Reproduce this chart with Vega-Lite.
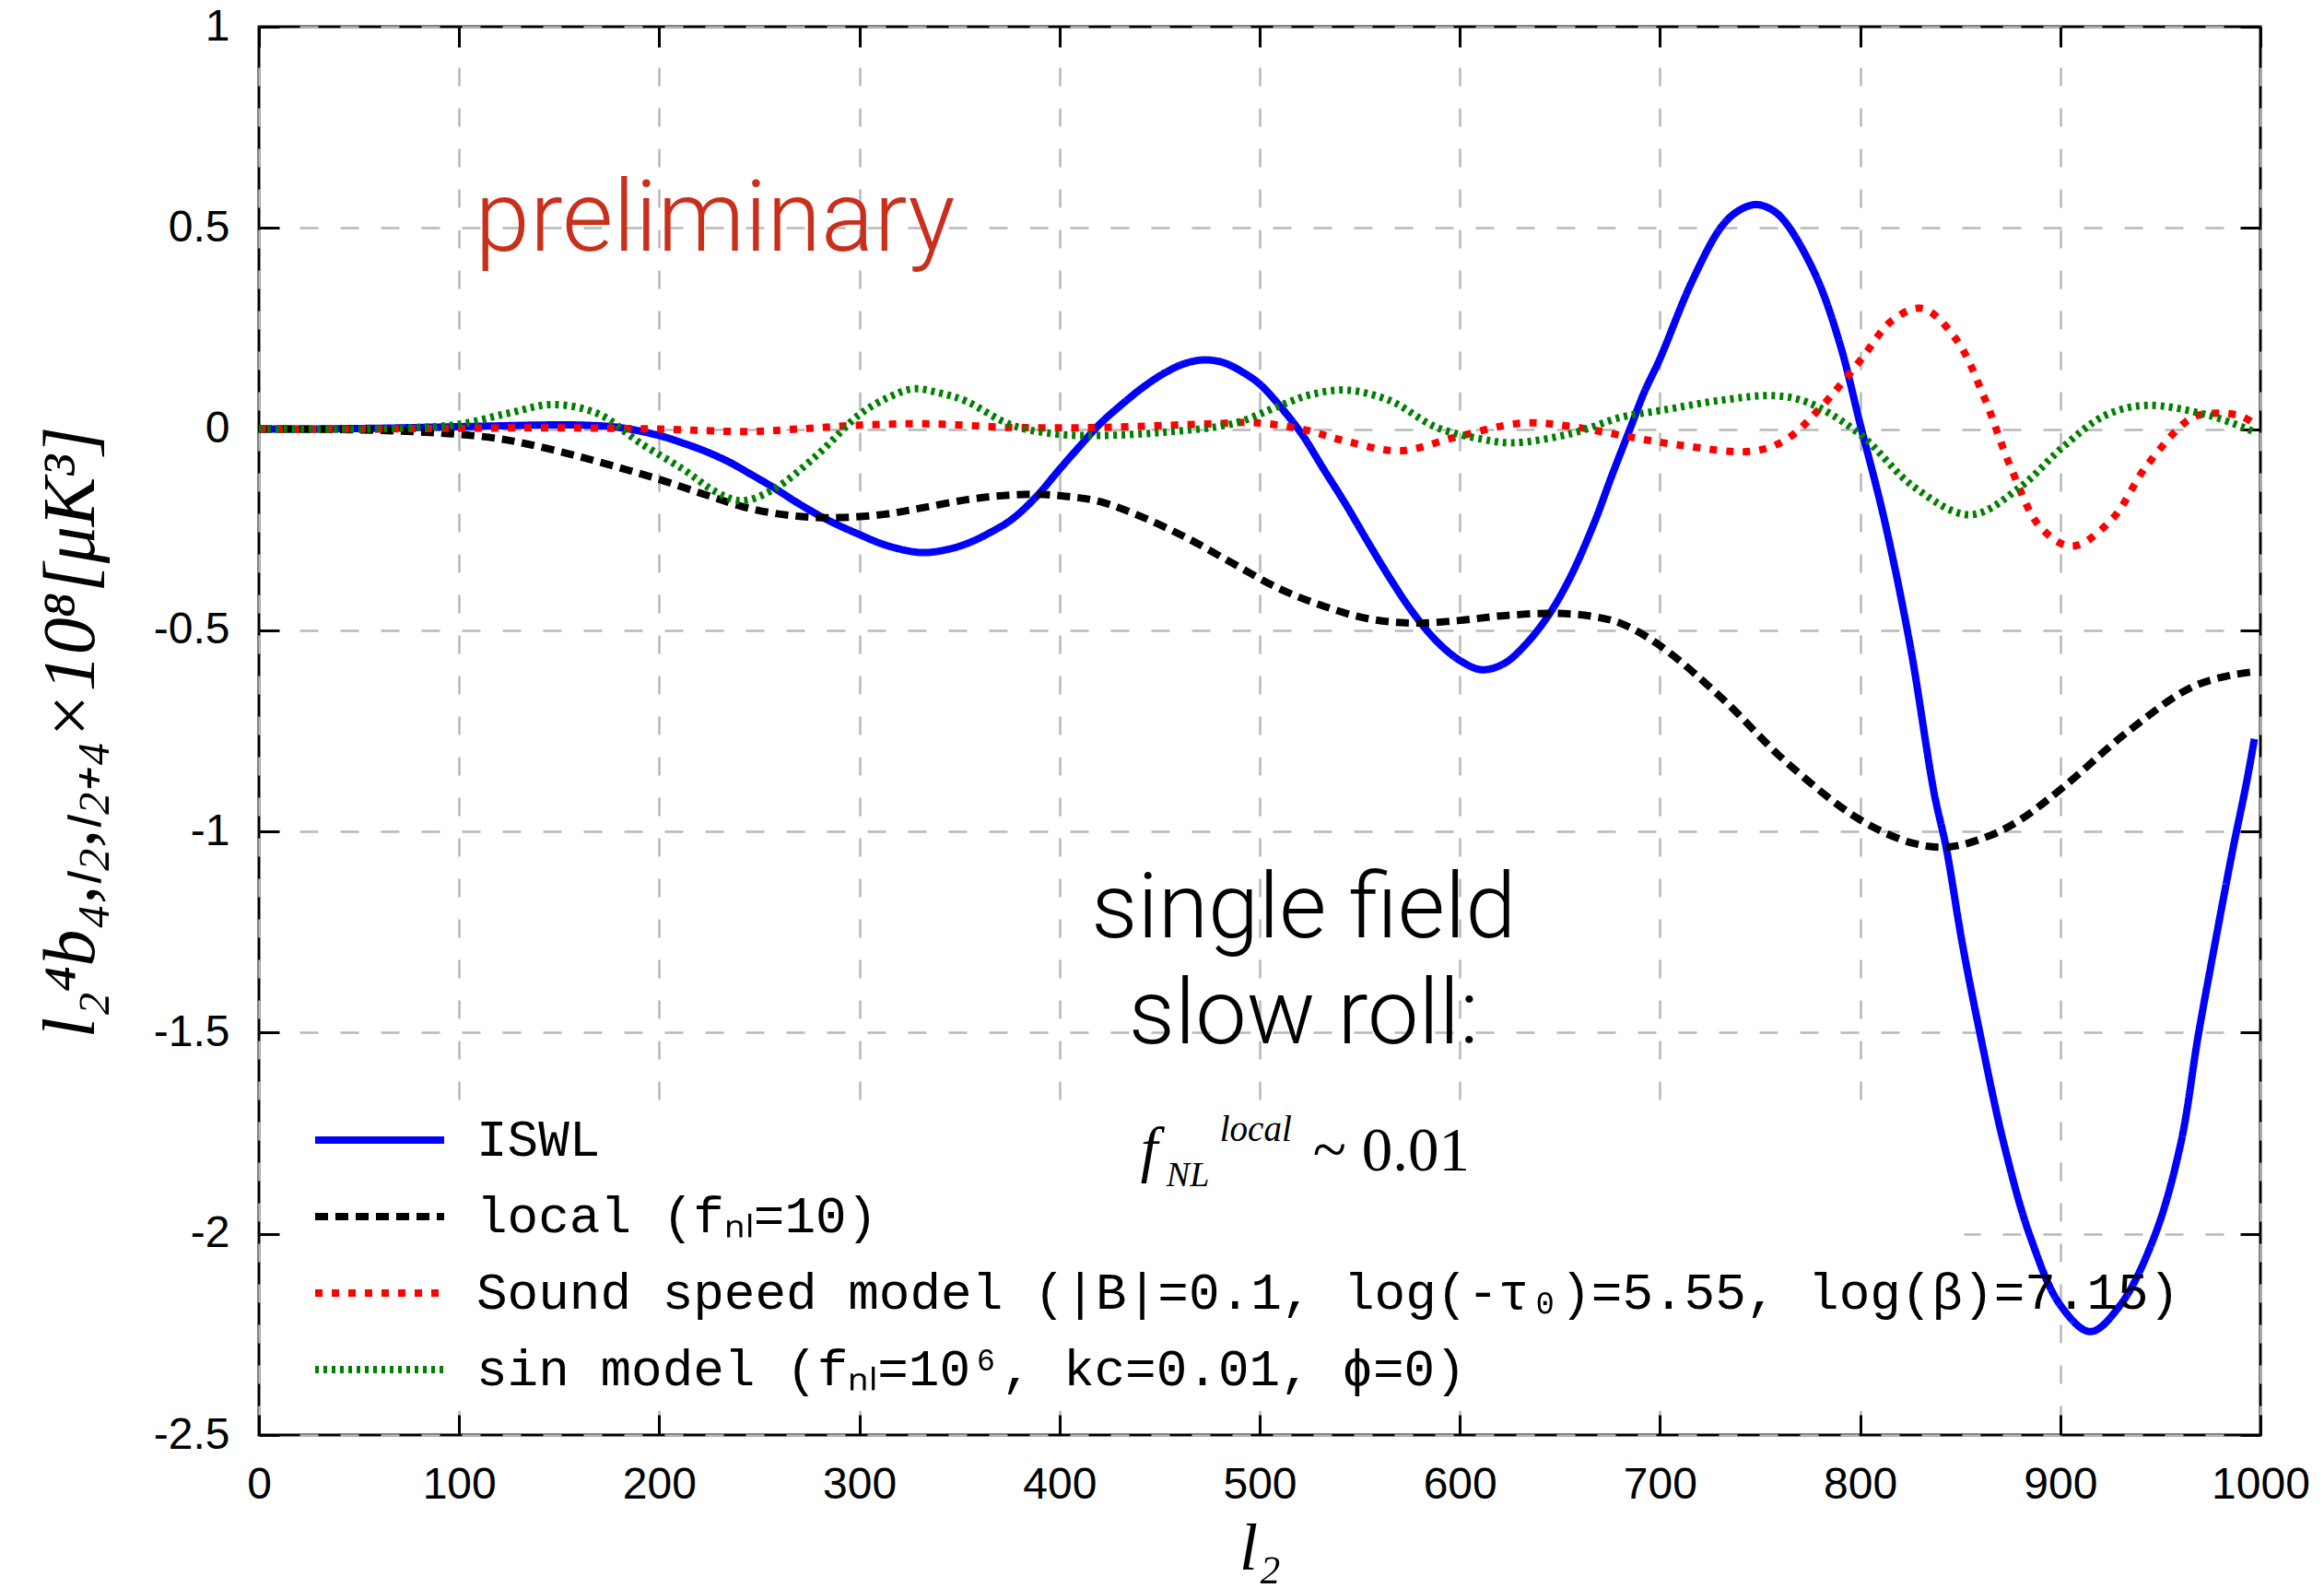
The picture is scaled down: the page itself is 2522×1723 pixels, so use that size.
{
  "$schema": "https://vega.github.io/schema/vega-lite/v6.json",
  "width": 2172,
  "height": 1528,
  "autosize": {"type": "none"},
  "padding": {"left": 281, "top": 29, "right": 69, "bottom": 166},
  "background": "white",
  "config": {
    "view": {"stroke": "black", "strokeWidth": 3},
    "axis": {
      "labelFont": "Liberation Sans", "labelFontSize": 48, "labelColor": "black",
      "tickColor": "black", "tickWidth": 3, "tickSize": -22,
      "domain": false, "gridColor": "#b8b8b8", "gridDash": [20, 24], "gridWidth": 2.5, "gridOpacity": 1,
      "labelFlush": false, "labelOverlap": false, "titleColor": "black"
    }
  },
  "layer": [
    {
      "data": {"values": [{}]},
      "mark": {"type": "rect", "fill": "white"},
      "encoding": {
        "x": {"datum": 12, "type": "quantitative", "axis": {"orient": "top", "values": [0,100,200,300,400,500,600,700,800,900,1000], "labels": false, "grid": false, "title": null}},
        "x2": {"datum": 852},
        "y": {"datum": -2.44, "type": "quantitative", "axis": {"orient": "right", "values": [1,0.5,0,-0.5,-1,-1.5,-2,-2.5], "labels": false, "grid": false, "title": null}},
        "y2": {"datum": -1.675}
      }
    },
    {
      "data": {"values": [
        {"x":0,"y":0,"s":"ISWL"},{"x":20,"y":0,"s":"ISWL"},{"x":40,"y":0.001,"s":"ISWL"},{"x":60,"y":0.002,"s":"ISWL"},{"x":80,"y":0.004,"s":"ISWL"},{"x":100,"y":0.006,"s":"ISWL"},{"x":120,"y":0.008,"s":"ISWL"},{"x":140,"y":0.01,"s":"ISWL"},{"x":160,"y":0.01,"s":"ISWL"},{"x":180,"y":0.004,"s":"ISWL"},{"x":200,"y":-0.016,"s":"ISWL"},{"x":212,"y":-0.035,"s":"ISWL"},{"x":223,"y":-0.055,"s":"ISWL"},{"x":235,"y":-0.082,"s":"ISWL"},{"x":245,"y":-0.11,"s":"ISWL"},{"x":258,"y":-0.148,"s":"ISWL"},{"x":268,"y":-0.18,"s":"ISWL"},{"x":280,"y":-0.215,"s":"ISWL"},{"x":290,"y":-0.24,"s":"ISWL"},{"x":300,"y":-0.262,"s":"ISWL"},{"x":310,"y":-0.283,"s":"ISWL"},{"x":320,"y":-0.298,"s":"ISWL"},{"x":332,"y":-0.307,"s":"ISWL"},{"x":345,"y":-0.298,"s":"ISWL"},{"x":355,"y":-0.282,"s":"ISWL"},{"x":365,"y":-0.258,"s":"ISWL"},{"x":376,"y":-0.225,"s":"ISWL"},{"x":388,"y":-0.17,"s":"ISWL"},{"x":400,"y":-0.1,"s":"ISWL"},{"x":410,"y":-0.043,"s":"ISWL"},{"x":420,"y":0.012,"s":"ISWL"},{"x":432,"y":0.065,"s":"ISWL"},{"x":442,"y":0.105,"s":"ISWL"},{"x":452,"y":0.138,"s":"ISWL"},{"x":462,"y":0.162,"s":"ISWL"},{"x":472,"y":0.172,"s":"ISWL"},{"x":482,"y":0.165,"s":"ISWL"},{"x":492,"y":0.14,"s":"ISWL"},{"x":500,"y":0.112,"s":"ISWL"},{"x":510,"y":0.058,"s":"ISWL"},{"x":521,"y":-0.012,"s":"ISWL"},{"x":532,"y":-0.1,"s":"ISWL"},{"x":543,"y":-0.187,"s":"ISWL"},{"x":554,"y":-0.28,"s":"ISWL"},{"x":565,"y":-0.37,"s":"ISWL"},{"x":576,"y":-0.452,"s":"ISWL"},{"x":588,"y":-0.525,"s":"ISWL"},{"x":600,"y":-0.575,"s":"ISWL"},{"x":611,"y":-0.598,"s":"ISWL"},{"x":622,"y":-0.583,"s":"ISWL"},{"x":632,"y":-0.54,"s":"ISWL"},{"x":644,"y":-0.465,"s":"ISWL"},{"x":655,"y":-0.37,"s":"ISWL"},{"x":667,"y":-0.235,"s":"ISWL"},{"x":676,"y":-0.115,"s":"ISWL"},{"x":685,"y":0.0,"s":"ISWL"},{"x":692,"y":0.09,"s":"ISWL"},{"x":700,"y":0.175,"s":"ISWL"},{"x":716,"y":0.367,"s":"ISWL"},{"x":731,"y":0.505,"s":"ISWL"},{"x":740,"y":0.545,"s":"ISWL"},{"x":748,"y":0.558,"s":"ISWL"},{"x":756,"y":0.545,"s":"ISWL"},{"x":763,"y":0.512,"s":"ISWL"},{"x":778,"y":0.38,"s":"ISWL"},{"x":790,"y":0.21,"s":"ISWL"},{"x":800,"y":0.013,"s":"ISWL"},{"x":812,"y":-0.223,"s":"ISWL"},{"x":825,"y":-0.538,"s":"ISWL"},{"x":837,"y":-0.905,"s":"ISWL"},{"x":843,"y":-1.04,"s":"ISWL"},{"x":851,"y":-1.277,"s":"ISWL"},{"x":860,"y":-1.505,"s":"ISWL"},{"x":872,"y":-1.78,"s":"ISWL"},{"x":885,"y":-2.007,"s":"ISWL"},{"x":900,"y":-2.177,"s":"ISWL"},{"x":915,"y":-2.243,"s":"ISWL"},{"x":930,"y":-2.177,"s":"ISWL"},{"x":947,"y":-2.007,"s":"ISWL"},{"x":960,"y":-1.78,"s":"ISWL"},{"x":969,"y":-1.505,"s":"ISWL"},{"x":978,"y":-1.26,"s":"ISWL"},{"x":986,"y":-1.05,"s":"ISWL"},{"x":993,"y":-0.88,"s":"ISWL"},{"x":997,"y":-0.77,"s":"ISWL"},
        {"x":0,"y":0,"s":"local"},{"x":20,"y":0,"s":"local"},{"x":40,"y":-0.001,"s":"local"},{"x":60,"y":-0.003,"s":"local"},{"x":80,"y":-0.007,"s":"local"},{"x":100,"y":-0.013,"s":"local"},{"x":120,"y":-0.024,"s":"local"},{"x":134,"y":-0.037,"s":"local"},{"x":156,"y":-0.063,"s":"local"},{"x":178,"y":-0.093,"s":"local"},{"x":200,"y":-0.125,"s":"local"},{"x":223,"y":-0.163,"s":"local"},{"x":245,"y":-0.197,"s":"local"},{"x":268,"y":-0.216,"s":"local"},{"x":290,"y":-0.22,"s":"local"},{"x":312,"y":-0.212,"s":"local"},{"x":331,"y":-0.196,"s":"local"},{"x":353,"y":-0.176,"s":"local"},{"x":370,"y":-0.166,"s":"local"},{"x":387,"y":-0.162,"s":"local"},{"x":403,"y":-0.167,"s":"local"},{"x":420,"y":-0.18,"s":"local"},{"x":442,"y":-0.22,"s":"local"},{"x":465,"y":-0.274,"s":"local"},{"x":487,"y":-0.335,"s":"local"},{"x":510,"y":-0.397,"s":"local"},{"x":532,"y":-0.44,"s":"local"},{"x":554,"y":-0.471,"s":"local"},{"x":576,"y":-0.482,"s":"local"},{"x":599,"y":-0.476,"s":"local"},{"x":621,"y":-0.464,"s":"local"},{"x":647,"y":-0.458,"s":"local"},{"x":667,"y":-0.466,"s":"local"},{"x":681,"y":-0.484,"s":"local"},{"x":700,"y":-0.538,"s":"local"},{"x":731,"y":-0.669,"s":"local"},{"x":763,"y":-0.827,"s":"local"},{"x":800,"y":-0.971,"s":"local"},{"x":827,"y":-1.03,"s":"local"},{"x":845,"y":-1.038,"s":"local"},{"x":865,"y":-1.01,"s":"local"},{"x":880,"y":-0.971,"s":"local"},{"x":901,"y":-0.892,"s":"local"},{"x":933,"y":-0.755,"s":"local"},{"x":965,"y":-0.643,"s":"local"},{"x":985,"y":-0.612,"s":"local"},{"x":997,"y":-0.603,"s":"local"},
        {"x":0,"y":0,"s":"sound"},{"x":50,"y":0,"s":"sound"},{"x":100,"y":0.002,"s":"sound"},{"x":150,"y":0.003,"s":"sound"},{"x":200,"y":0.0,"s":"sound"},{"x":245,"y":-0.006,"s":"sound"},{"x":275,"y":0.002,"s":"sound"},{"x":300,"y":0.01,"s":"sound"},{"x":335,"y":0.013,"s":"sound"},{"x":376,"y":0.004,"s":"sound"},{"x":420,"y":0.004,"s":"sound"},{"x":475,"y":0.013,"s":"sound"},{"x":497,"y":0.016,"s":"sound"},{"x":521,"y":0.0,"s":"sound"},{"x":543,"y":-0.03,"s":"sound"},{"x":570,"y":-0.054,"s":"sound"},{"x":598,"y":-0.02,"s":"sound"},{"x":631,"y":0.015,"s":"sound"},{"x":655,"y":0.007,"s":"sound"},{"x":681,"y":-0.016,"s":"sound"},{"x":710,"y":-0.04,"s":"sound"},{"x":746,"y":-0.055,"s":"sound"},{"x":763,"y":-0.026,"s":"sound"},{"x":780,"y":0.052,"s":"sound"},{"x":800,"y":0.17,"s":"sound"},{"x":816,"y":0.27,"s":"sound"},{"x":831,"y":0.3,"s":"sound"},{"x":848,"y":0.223,"s":"sound"},{"x":862,"y":0.079,"s":"sound"},{"x":875,"y":-0.092,"s":"sound"},{"x":890,"y":-0.243,"s":"sound"},{"x":906,"y":-0.291,"s":"sound"},{"x":926,"y":-0.223,"s":"sound"},{"x":943,"y":-0.092,"s":"sound"},{"x":965,"y":0.026,"s":"sound"},{"x":975,"y":0.039,"s":"sound"},{"x":990,"y":0.033,"s":"sound"},{"x":997,"y":0.013,"s":"sound"},
        {"x":0,"y":0,"s":"sin"},{"x":50,"y":0,"s":"sin"},{"x":75,"y":0.003,"s":"sin"},{"x":100,"y":0.012,"s":"sin"},{"x":125,"y":0.04,"s":"sin"},{"x":147,"y":0.061,"s":"sin"},{"x":170,"y":0.037,"s":"sin"},{"x":190,"y":-0.033,"s":"sin"},{"x":212,"y":-0.1,"s":"sin"},{"x":228,"y":-0.155,"s":"sin"},{"x":241,"y":-0.178,"s":"sin"},{"x":257,"y":-0.15,"s":"sin"},{"x":279,"y":-0.064,"s":"sin"},{"x":300,"y":0.036,"s":"sin"},{"x":315,"y":0.08,"s":"sin"},{"x":327,"y":0.1,"s":"sin"},{"x":340,"y":0.09,"s":"sin"},{"x":353,"y":0.07,"s":"sin"},{"x":376,"y":0.01,"s":"sin"},{"x":398,"y":-0.012,"s":"sin"},{"x":420,"y":-0.016,"s":"sin"},{"x":454,"y":-0.007,"s":"sin"},{"x":487,"y":0.014,"s":"sin"},{"x":510,"y":0.058,"s":"sin"},{"x":525,"y":0.085,"s":"sin"},{"x":543,"y":0.097,"s":"sin"},{"x":565,"y":0.071,"s":"sin"},{"x":588,"y":0.005,"s":"sin"},{"x":611,"y":-0.025,"s":"sin"},{"x":626,"y":-0.034,"s":"sin"},{"x":655,"y":-0.012,"s":"sin"},{"x":681,"y":0.03,"s":"sin"},{"x":700,"y":0.046,"s":"sin"},{"x":731,"y":0.072,"s":"sin"},{"x":757,"y":0.083,"s":"sin"},{"x":774,"y":0.066,"s":"sin"},{"x":800,"y":-0.013,"s":"sin"},{"x":827,"y":-0.144,"s":"sin"},{"x":855,"y":-0.213,"s":"sin"},{"x":880,"y":-0.144,"s":"sin"},{"x":901,"y":-0.046,"s":"sin"},{"x":922,"y":0.033,"s":"sin"},{"x":943,"y":0.059,"s":"sin"},{"x":975,"y":0.033,"s":"sin"},{"x":997,"y":-0.007,"s":"sin"}
      ]},
      "mark": {"type": "line", "interpolate": "catmull-rom", "clip": true},
      "encoding": {
        "x": {"field": "x", "type": "quantitative",
          "scale": {"domain": [0, 1000], "nice": false, "zero": false},
          "axis": {"orient": "bottom", "values": [0,100,200,300,400,500,600,700,800,900,1000], "grid": true, "labelPadding": 52,
            "labelExpr": "'' + datum.value",
            "title": "l₂", "titleFont": "Liberation Serif", "titleFontStyle": "italic", "titleFontWeight": "normal", "titleFontSize": 72,
            "titleX": 1086, "titleY": 145, "titleBaseline": "alphabetic", "titleAlign": "center"}},
        "y": {"field": "y", "type": "quantitative",
          "scale": {"domain": [-2.5, 1], "nice": false, "zero": false},
          "axis": {"orient": "left", "values": [1,0.5,0,-0.5,-1,-1.5,-2,-2.5], "grid": true, "labelPadding": 54,
            "labelExpr": "'' + datum.value",
            "title": "l₂⁴b₄,ₗ₂,ₗ₂₊₄×10⁸[μK³]", "titleFont": "Liberation Serif", "titleFontStyle": "italic", "titleFontWeight": "normal", "titleFontSize": 80,
            "titleAngle": -90, "titleX": -180, "titleY": 765, "titleBaseline": "alphabetic", "titleAlign": "center"}},
        "color": {"field": "s", "type": "nominal",
          "scale": {"domain": ["ISWL", "local", "sound", "sin"], "range": ["#0000ff", "#000000", "#ff0000", "#008000"]},
          "legend": {"orient": "none", "legendX": 103, "legendY": 1180, "title": null, "symbolType": "M-7,0H7", "symbolSize": 400,
            "labelFont": "Liberation Mono", "labelFontSize": 56, "labelColor": "black", "labelOffset": 77, "labelLimit": 3000, "rowPadding": 27,
            "labelExpr": "datum.label === 'local' ? 'local (fₙₗ=10)' : datum.label === 'sound' ? 'Sound speed model (|B|=0.1, log(-τ₀)=5.55, log(β)=7.15)' : datum.label === 'sin' ? 'sin model (fₙₗ=10⁶, kc=0.01, ϕ=0)' : datum.label"}},
        "strokeDash": {"field": "s", "type": "nominal",
          "scale": {"domain": ["ISWL", "local", "sound", "sin"], "range": [[1, 0], [14, 8], [8, 10], [4, 5]]},
          "legend": {"orient": "none", "legendX": 103, "legendY": 1180, "title": null, "symbolType": "M-7,0H7", "symbolSize": 400,
            "labelFont": "Liberation Mono", "labelFontSize": 56, "labelColor": "black", "labelOffset": 77, "labelLimit": 3000, "rowPadding": 27,
            "labelExpr": "datum.label === 'local' ? 'local (fₙₗ=10)' : datum.label === 'sound' ? 'Sound speed model (|B|=0.1, log(-τ₀)=5.55, log(β)=7.15)' : datum.label === 'sin' ? 'sin model (fₙₗ=10⁶, kc=0.01, ϕ=0)' : datum.label"}},
        "strokeWidth": {"field": "s", "type": "nominal",
          "scale": {"domain": ["ISWL", "local", "sound", "sin"], "range": [8, 8, 8, 6]},
          "legend": {"orient": "none", "legendX": 103, "legendY": 1180, "title": null, "symbolType": "M-7,0H7", "symbolSize": 400,
            "labelFont": "Liberation Mono", "labelFontSize": 56, "labelColor": "black", "labelOffset": 77, "labelLimit": 3000, "rowPadding": 27,
            "labelExpr": "datum.label === 'local' ? 'local (fₙₗ=10)' : datum.label === 'sound' ? 'Sound speed model (|B|=0.1, log(-τ₀)=5.55, log(β)=7.15)' : datum.label === 'sin' ? 'sin model (fₙₗ=10⁶, kc=0.01, ϕ=0)' : datum.label"}}
      }
    },
    {
      "data": {"values": [{}]},
      "mark": {"type": "text", "text": "preliminary", "font": "Roboto", "fontWeight": 300, "fontSize": 107, "color": "#c9301c", "align": "left", "baseline": "alphabetic"},
      "encoding": {"x": {"datum": 108, "type": "quantitative", "axis": null}, "y": {"datum": 0.443, "type": "quantitative", "axis": null}}
    },
    {
      "data": {"values": [{}]},
      "mark": {"type": "text", "text": "single field", "font": "Roboto", "fontWeight": 300, "fontSize": 99, "color": "black", "align": "center", "baseline": "alphabetic"},
      "encoding": {"x": {"datum": 522, "type": "quantitative", "axis": null}, "y": {"datum": -1.262, "type": "quantitative", "axis": null}}
    },
    {
      "data": {"values": [{}]},
      "mark": {"type": "text", "text": "slow roll:", "font": "Roboto", "fontWeight": 300, "fontSize": 99, "color": "black", "align": "center", "baseline": "alphabetic"},
      "encoding": {"x": {"datum": 522, "type": "quantitative", "axis": null}, "y": {"datum": -1.527, "type": "quantitative", "axis": null}}
    },
    {
      "data": {"values": [{}]},
      "mark": {"type": "text", "text": "f", "font": "Liberation Serif", "fontStyle": "italic", "fontSize": 67, "color": "black", "align": "left", "baseline": "alphabetic", "dx": -177},
      "encoding": {"x": {"datum": 522, "type": "quantitative", "axis": null}, "y": {"datum": -1.842, "type": "quantitative", "axis": null}}
    },
    {
      "data": {"values": [{}]},
      "mark": {"type": "text", "text": "NL", "font": "Liberation Serif", "fontStyle": "italic", "fontSize": 38, "color": "black", "align": "left", "baseline": "alphabetic", "dx": -149, "dy": 17},
      "encoding": {"x": {"datum": 522, "type": "quantitative", "axis": null}, "y": {"datum": -1.842, "type": "quantitative", "axis": null}}
    },
    {
      "data": {"values": [{}]},
      "mark": {"type": "text", "text": "local", "font": "Liberation Serif", "fontStyle": "italic", "fontSize": 39, "color": "black", "align": "left", "baseline": "alphabetic", "dx": -91, "dy": -32},
      "encoding": {"x": {"datum": 522, "type": "quantitative", "axis": null}, "y": {"datum": -1.842, "type": "quantitative", "axis": null}}
    },
    {
      "data": {"values": [{}]},
      "mark": {"type": "text", "text": "~ 0.01", "font": "Liberation Serif", "fontSize": 67, "color": "black", "align": "left", "baseline": "alphabetic", "dx": 10},
      "encoding": {"x": {"datum": 522, "type": "quantitative", "axis": null}, "y": {"datum": -1.842, "type": "quantitative", "axis": null}}
    }
  ]
}
